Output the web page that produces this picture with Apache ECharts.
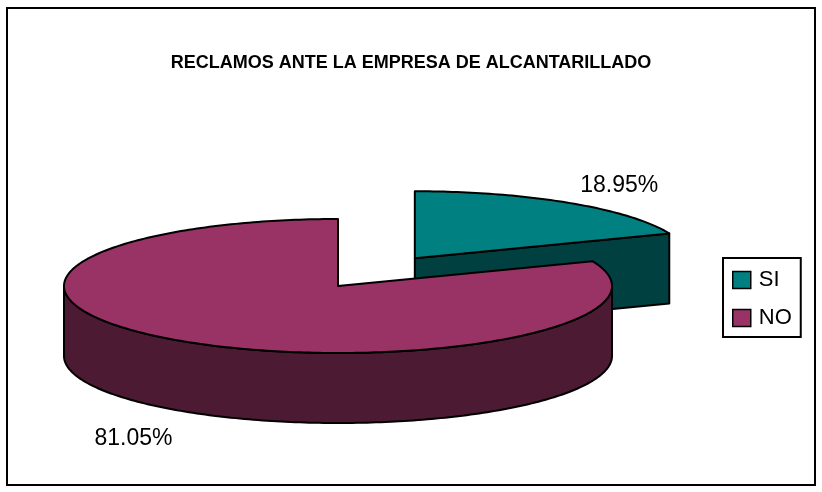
<!DOCTYPE html>
<html>
<head>
<meta charset="utf-8">
<script src="https://cdn.jsdelivr.net/npm/echarts@6/dist/echarts.min.js"></script>
<style>
html,body{margin:0;padding:0;background:#fff;}
#c{width:822px;height:492px;}
</style>
</head>
<body>
<div id="c"></div>
<script>
// ---- data ----
const titleText = 'RECLAMOS ANTE LA EMPRESA DE ALCANTARILLADO';
const categories = ['SI', 'NO'];
const values = [18.95, 81.05];
const pctLabels = ['18.95%', '81.05%'];
const exploded = [true, false];

// ---- styles ----
const topColors = ['#008080', '#993366'];
const sideColors = ['#004040', '#4C1A33'];
const geo = { cx: 338, cy: 286, rx: 274, ry: 67, depth: 70, explode: 0.5 };
const labelOffsets = [[17, -5], [-17, 15]];
const FONT = 'Arial, "Liberation Sans", sans-serif';

const total = values.reduce((a, b) => a + b, 0);
const starts = [];
let acc = 0;
values.forEach(v => { starts.push(acc / total * 360); acc += v; });

function pt(cx, cy, a, dy) {
  const r = a * Math.PI / 180;
  return [cx + geo.rx * Math.sin(r), cy - geo.ry * Math.cos(r) + (dy || 0)];
}
function arc(cx, cy, a0, a1, dy) {
  const pts = [];
  const n = Math.max(2, Math.ceil(Math.abs(a1 - a0) / 1));
  for (let k = 0; k <= n; k++) pts.push(pt(cx, cy, a0 + (a1 - a0) * k / n, dy));
  return pts;
}
const strokeStyle = { stroke: '#000', lineWidth: 2, lineJoin: 'round' };

function makeRender(i) {
  return function (params, api) {
    const a0 = starts[i];
    const a1 = a0 + values[i] / total * 360;
    const mid = (a0 + a1) / 2 * Math.PI / 180;
    let cx = geo.cx, cy = geo.cy;
    if (exploded[i]) {
      cx += geo.rx * geo.explode * Math.sin(mid);
      cy -= geo.ry * geo.explode * Math.cos(mid);
    }
    const D = geo.depth;
    const children = [];
    const side = sideColors[i];
    const wall = (a) => [[cx, cy], pt(cx, cy, a), pt(cx, cy, a, D), [cx, cy + D]];
    if (Math.cos((a0 - 90) * Math.PI / 180) < -1e-6) {
      children.push({ type: 'polygon', shape: { points: wall(a0) }, style: Object.assign({ fill: side }, strokeStyle) });
    }
    if (Math.cos((a1 + 90) * Math.PI / 180) < -1e-6) {
      children.push({ type: 'polygon', shape: { points: wall(a1) }, style: Object.assign({ fill: side }, strokeStyle) });
    }
    const s0 = Math.max(a0, 90), s1 = Math.min(a1, 270);
    if (s1 > s0) {
      const topArc = arc(cx, cy, s0, s1, 0);
      const botArc = arc(cx, cy, s1, s0, D);
      children.push({ type: 'polygon', shape: { points: topArc.concat(botArc) }, style: Object.assign({ fill: side }, strokeStyle) });
    }
    const topPts = [[cx, cy]].concat(arc(cx, cy, a0, a1, 0));
    children.push({ type: 'polygon', shape: { points: topPts }, style: Object.assign({ fill: topColors[i] }, strokeStyle) });
    const k = 1.22;
    let lx = cx + geo.rx * k * Math.sin(mid);
    let ly = cy - geo.ry * k * Math.cos(mid);
    if (Math.cos(mid) < 0) ly += D;
    lx += labelOffsets[i][0]; ly += labelOffsets[i][1];
    children.push({
      type: 'text',
      style: { text: pctLabels[i], x: lx, y: ly, fill: '#000', font: '23px ' + FONT, align: 'center', verticalAlign: 'middle' }
    });
    return { type: 'group', children };
  };
}

const chart = echarts.init(document.getElementById('c'), null, { renderer: 'canvas' });
chart.setOption({
  animation: false,
  backgroundColor: '#fff',
  title: {
    text: titleText, left: 'center', top: 49,
    textStyle: { fontFamily: FONT, fontSize: 18, fontWeight: 'bold', color: '#000' }
  },
  legend: {
    orient: 'vertical', left: 723, top: 258,
    data: categories,
    icon: 'rect', itemWidth: 18, itemHeight: 17, itemGap: 16,
    padding: [11, 9, 8, 9],
    borderColor: '#000', borderWidth: 2,
    itemStyle: { borderColor: '#000', borderWidth: 1.5 },
    textStyle: { fontFamily: FONT, fontSize: 22, lineHeight: 22, color: '#000', padding: [0, 0, 0, 3] },
    selectedMode: false
  },
  graphic: [{
    type: 'rect', shape: { x: 7, y: 8, width: 808, height: 477 },
    style: { fill: 'none', stroke: '#000', lineWidth: 2 }, silent: true, z: -1
  }],
  series: categories.map((name, i) => ({
    type: 'custom', name, coordinateSystem: 'none',
    data: [values[i]],
    itemStyle: { color: topColors[i] },
    renderItem: makeRender(i)
  }))
});
</script>
</body>
</html>
